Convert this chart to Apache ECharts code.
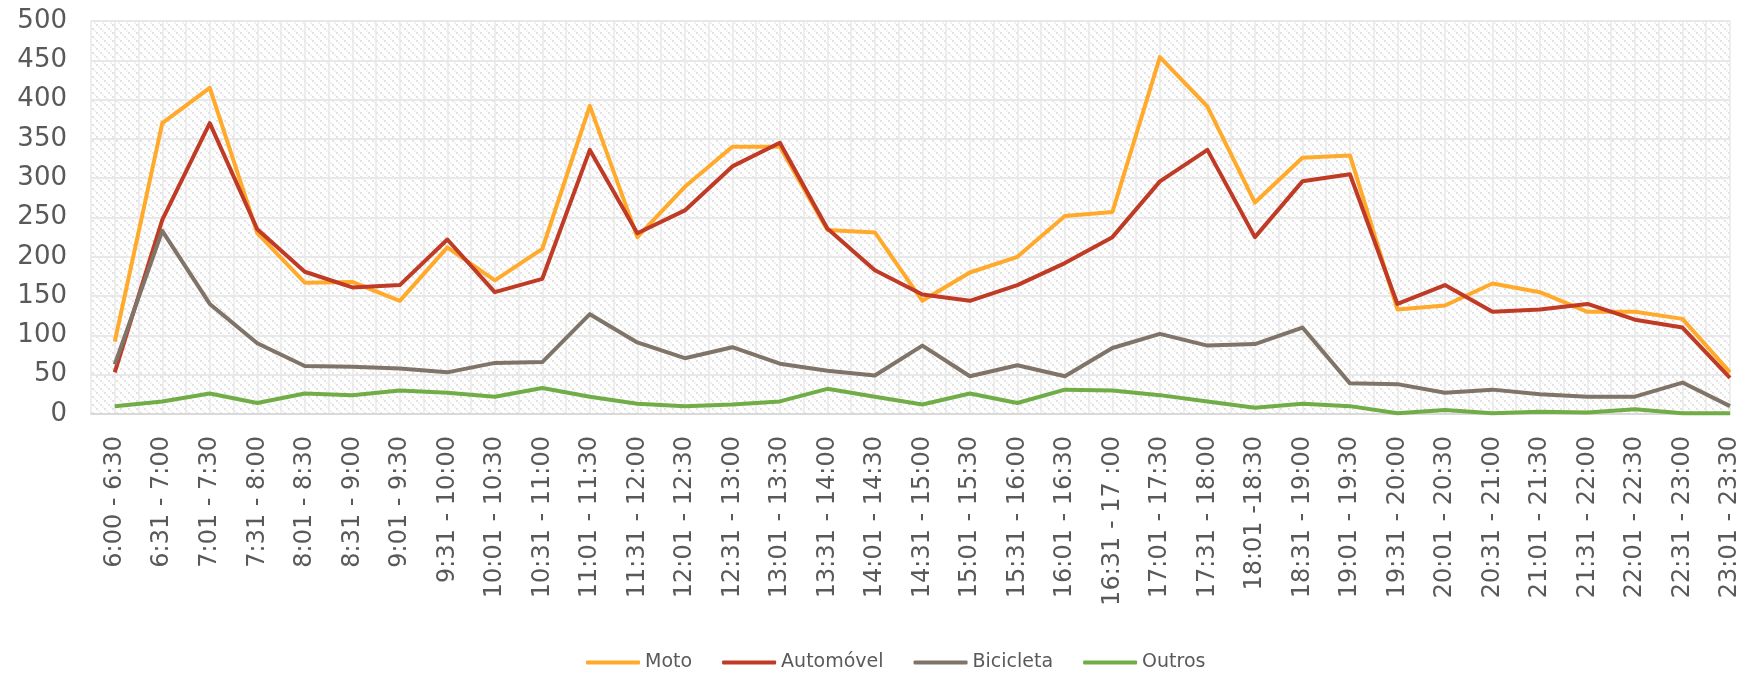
<!DOCTYPE html>
<html>
<head>
<meta charset="utf-8">
<title>Contagem por intervalo</title>
<script src="https://cdn.jsdelivr.net/npm/echarts@6/dist/echarts.min.js"></script>
<style>
  html,body{margin:0;padding:0;background:#fff}
  #main{width:1742px;height:674px}
</style>
</head>
<body>
<div id="main"></div>
<script>
// categorias (intervalos de 30 min)
var categories = ['6:00 - 6:30','6:31 - 7:00','7:01 - 7:30','7:31 - 8:00','8:01 - 8:30','8:31 - 9:00',
  '9:01 - 9:30','9:31 - 10:00','10:01 - 10:30','10:31 - 11:00','11:01 - 11:30','11:31 - 12:00',
  '12:01 - 12:30','12:31 - 13:00','13:01 - 13:30','13:31 - 14:00','14:01 - 14:30','14:31 - 15:00',
  '15:01 - 15:30','15:31 - 16:00','16:01 - 16:30','16:31 - 17 :00','17:01 - 17:30','17:31 - 18:00',
  '18:01 -18:30','18:31 - 19:00','19:01 - 19:30','19:31 - 20:00','20:01 - 20:30','20:31 - 21:00',
  '21:01 - 21:30','21:31 - 22:00','22:01 - 22:30','22:31 - 23:00','23:01 - 23:30']

var moto      = [92,370,415,230,167,168,144,212,170,210,392,225,289,340,340,234,231,144,180,200,252,257,454,391,269,326,329,133,138,166,155,130,130,121,53]
var automovel = [53,247,370,235,181,161,164,222,155,172,336,230,259,315,345,236,183,152,144,164,192,225,296,336,225,296,305,140,164,130,133,140,120,110,46]
var bicicleta = [63,233,140,90,61,60,58,53,65,66,127,91,71,85,64,55,49,87,48,62,48,84,102,87,89,110,39,38,27,31,25,22,22,40,10]
var outros    = [10,16,26,14,26,24,30,27,22,33,22,13,10,12,16,32,22,12,26,14,31,30,24,16,8,13,10,1,5,1,3,2,6,1,1]

var yTicks = {min:0,max:500,step:50}

var colors = {
  moto:'#ffaa2b',
  auto:'#bf3b25',
  bici:'#7f7467',
  outros:'#70ad47'
}

// fundo hachurado (padrao diagonal tipo excel)
function hatch(){
  var c = document.createElement('canvas')
  c.width = 8; c.height = 8
  var ctx = c.getContext('2d')
  ctx.fillStyle = '#ffffff'
  ctx.fillRect(0,0,8,8)
  ctx.fillStyle = '#e2e2e2'
  ctx.fillRect(0,0,2,2)
  ctx.fillRect(4,4,2,2)
  ctx.fillStyle = '#f1f1f1'
  ctx.fillRect(2,2,2,2)
  ctx.fillRect(6,6,2,2)
  return c
}

function toXY(arr){
  return arr.map(function(v,i){ return [i,v] })
}

var font = 'DejaVu Sans'
var chart = echarts.init(document.getElementById('main'), null, {renderer:'canvas'})

var mkSerie = function(name,arr,color){
  return {
    name:name,
    type:'line',
    data:toXY(arr),
    symbol:'none',
    lineStyle:{color:color,width:4,join:'round'},
    itemStyle:{color:color},
    z: 3
  }
}

chart.setOption({
  animation:false,
  backgroundColor:'#fff',
  grid:{
    show:true,
    left:91,
    top:21,
    right:12,
    bottom:260,
    backgroundColor:{image:hatch(),repeat:'repeat'},
    borderWidth:0
  },
  xAxis:{
    type:'value',
    min:-0.5,
    max:categories.length-1,
    interval:0.5,
    axisLine:{show:true,onZero:false,lineStyle:{color:'#d9d9d9',width:2}},
    axisTick:{show:false},
    splitLine:{show:true,lineStyle:{color:'#e8e8e8',width:1.5}},
    axisLabel:{
      rotate:90,
      margin:22,
      color:'#595959',
      fontFamily:font,
      fontSize:24,
      showMinLabel:true,
      showMaxLabel:true,
      formatter:function(v){
        return Number.isInteger(v) ? categories[v] : ''
      }
    }
  },
  yAxis:{
    type:'value',
    min:yTicks.min,
    max:yTicks.max,
    interval:yTicks.step,
    axisLine:{show:false},
    axisTick:{show:false},
    splitLine:{lineStyle:{color:'#e8e8e8',width:2}},
    axisLabel:{
      margin:24,
      color:'#595959',
      fontFamily:font,
      fontSize:26
    }
  },
  legend:{
    left:581,
    top:648,
    icon:'roundRect',
    itemWidth:54,
    itemHeight:4,
    itemGap:30,
    textStyle:{color:'#595959',fontFamily:font,fontSize:19,padding:[0,0,0,0]},
    data:['Moto','Automóvel','Bicicleta','Outros']
  },
  series:[
    mkSerie('Moto',moto,colors.moto),
    mkSerie('Automóvel',automovel,colors.auto),
    mkSerie('Bicicleta',bicicleta,colors.bici),
    mkSerie('Outros',outros,colors.outros)
  ]
})
</script>
</body>
</html>
